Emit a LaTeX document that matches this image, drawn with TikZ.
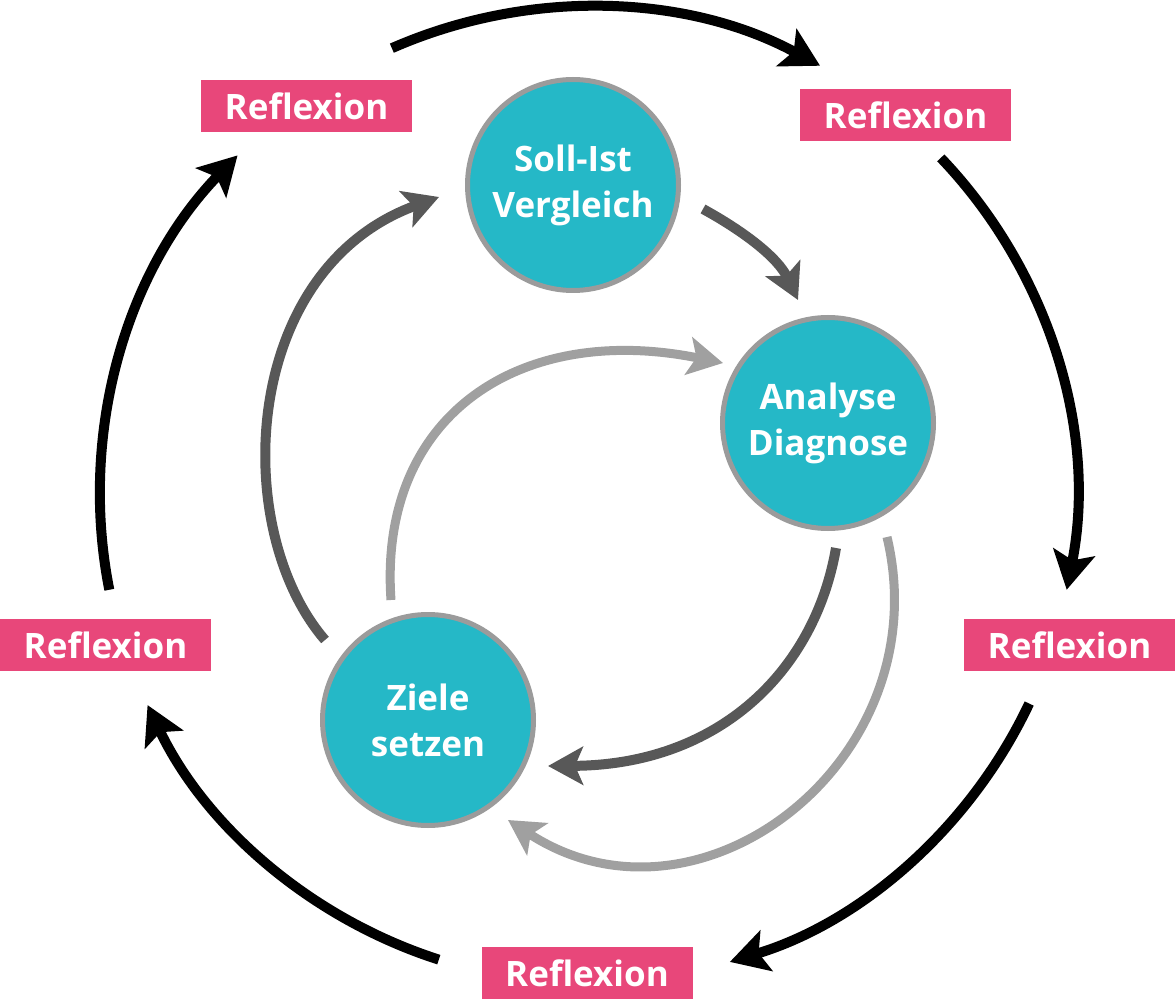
\documentclass[tikz,border=0pt]{standalone}
\usepackage{fontspec}
\setmainfont{Open Sans}
\usetikzlibrary{arrows.meta,calc}
\definecolor{tealc}{HTML}{25B8C7}
\definecolor{pinkc}{HTML}{E8477A}
\definecolor{rimc}{HTML}{9B9B9B}
\definecolor{darkc}{HTML}{585858}
\definecolor{lightc}{HTML}{A0A0A0}
\begin{document}
\begin{tikzpicture}[x=1pt,y=-1pt,
  circ/.style={circle,fill=tealc,draw=rimc,line width=5pt,minimum size=211pt,inner sep=0pt,
    text=white,align=center,font=\fontsize{35}{46}\selectfont\bfseries},
  refl/.style={rectangle,fill=pinkc,minimum width=211pt,minimum height=52pt,inner sep=0pt,
    text=white,font=\fontsize{35}{40}\selectfont\bfseries},
  outerarrow/.style={line width=10pt,black,-{Stealth[length=38pt,width=42pt,inset=8pt]}},
  darkarrow/.style={line width=10pt,darkc,-{Stealth[length=35pt,width=38pt,inset=8pt]}},
  lightarrow/.style={line width=9pt,lightc,-{Stealth[length=35pt,width=38pt,inset=8pt]}}]
\useasboundingbox (0,0) rectangle (1176,1000);
\coordinate (C) at (588,495);

% nodes
\node[circ] (soll) at (573,185) {Soll-Ist\\Vergleich};
\node[circ] (ana) at (828,423) {Analyse\\Diagnose};
\node[circ] (ziel) at (428,720) {Ziele\\setzen};

\node[refl] (r1) at (306.5,106) {Reflexion};
\node[refl] (r2) at (905.5,115) {Reflexion};
\node[refl] (r3) at (1069.5,645) {Reflexion};
\node[refl] (r4) at (587,973) {Reflexion};
\node[refl] (r5) at (105.5,645) {Reflexion};

% outer arcs
\coordinate (o1) at ($(C)+(113.7:488pt)$);
\coordinate (o2) at ($(C)+(43.7:488pt)$);
\coordinate (o3) at ($(C)+(-25.3:488pt)$);
\coordinate (o4) at ($(C)+(-107.8:488pt)$);
\coordinate (o5) at ($(C)+(-168.8:488pt)$);
\draw[outerarrow] (o1) arc[start angle=113.7,end angle=61.6,radius=488pt];
\draw[outerarrow] (o2) arc[start angle=43.7,end angle=-11.2,radius=488pt];
\draw[outerarrow] (o3) arc[start angle=-25.3,end angle=-73.1,radius=488pt];
\draw[outerarrow] (o4) arc[start angle=-107.8,end angle=-154.5,radius=488pt];
\draw[outerarrow] (o5) arc[start angle=-168.8,end angle=-224.1,radius=488pt];

% inner dark arrows
\coordinate (a1s) at (703,209);
\coordinate (a1e) at (798,300);
\draw[darkarrow] (a1s) .. controls (745,232) and (778,258) .. (a1e);
\coordinate (a2s) at (836,548);
\coordinate (a2e) at (548,766);
\draw[darkarrow] (a2s) .. controls (815,670) and (720,765) .. (a2e);
\coordinate (a3s) at (325,640);
\coordinate (a3e) at (439,197);
\draw[darkarrow] (a3s) .. controls (230,530) and (240,270) .. (a3e);

% inner light arrows
\coordinate (b1s) at (391,600);
\coordinate (b1e) at (723,363);
\draw[lightarrow] (b1s) .. controls (378,415) and (520,322) .. (b1e);
\coordinate (b2s) at (887,537);
\coordinate (b2e) at (508,820);
\draw[lightarrow] (b2s) .. controls (940,760) and (700,945) .. (b2e);
\end{tikzpicture}
\end{document}
